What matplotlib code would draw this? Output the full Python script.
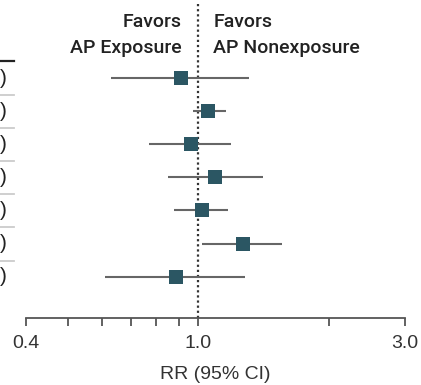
import matplotlib.pyplot as plt
import numpy as np

# RR and 95% CI per row (top to bottom)
rr = [0.91, 1.05, 0.96, 1.09, 1.02, 1.27, 0.89]
ci_low = [0.63, 0.97, 0.77, 0.85, 0.88, 1.02, 0.61]
ci_high = [1.31, 1.16, 1.19, 1.41, 1.17, 1.56, 1.28]
tick_vals = [0.4, 1.0, 3.0]
tick_labels = ['0.4', '1.0', '3.0']
minor_vals = [0.5, 0.6, 0.7, 0.8, 0.9, 2.0]
header_left = ['Favors', 'AP Exposure']
header_right = ['Favors', 'AP Nonexposure']

plt.rcParams['font.family'] = ['Liberation Sans', 'DejaVu Sans']

W, H = 421, 385
fig = plt.figure(figsize=(W / 100, H / 100), dpi=100)

# axes placed in pixel terms: x 0.4 -> 26 px, 3.0 -> 405 px; axis line at y=318
ax = fig.add_axes([26 / W, (H - 318) / H, (405 - 26) / W, (318 - 3) / H])
row_h = 33.1
top_pad = (78 - 3) / row_h
bot_pad = (318 - 78) / row_h - (len(rr) - 1)

ax.set_xscale('log')
ax.set_xlim(0.4, 3.0)
ax.set_ylim(len(rr) - 1 + bot_pad, -top_pad)

y = np.arange(len(rr))
sq_color = '#2b5663'
for i in range(len(rr)):
    ax.plot([ci_low[i], ci_high[i]], [y[i], y[i]], color='#666666', lw=1.5,
            solid_capstyle='butt', zorder=2)
ax.scatter(rr, y, marker='s', s=100, color=sq_color, zorder=3, linewidths=0)

ax.axvline(1.0, color='#333333', lw=1.6, ls=(0, (1, 1.3)), zorder=1)

for s in ['top', 'right', 'left']:
    ax.spines[s].set_visible(False)
ax.spines['bottom'].set_color('#555555')
ax.spines['bottom'].set_linewidth(1.3)
ax.set_yticks([])
ax.set_xticks(tick_vals)
ax.set_xticklabels(tick_labels)
ax.set_xticks(minor_vals, minor=True)
ax.xaxis.set_minor_formatter(plt.NullFormatter())
ax.tick_params(axis='x', which='both', length=6, width=1.3, color='#555555',
               labelsize=14, labelcolor='#333333', pad=6)
ax.set_xlabel('RR (95% CI)', fontsize=14, color='#333333', labelpad=10)

# header, two lines each side of the null line (baselines at 27 and 53 px)
hdr_font = dict(fontsize=14, color='#222222', weight='medium',
                family=['Roboto', 'DejaVu Sans'])
for k, base in enumerate([24, 50]):
    ax.annotate(header_left[k], xy=(1.0, -top_pad), xytext=(-17, -base),
                textcoords='offset pixels', ha='right', va='baseline', **hdr_font)
    ax.annotate(header_right[k], xy=(1.0, -top_pad), xytext=(15, -base),
                textcoords='offset pixels', ha='left', va='baseline', **hdr_font)

# cut-off label column on the left
for i in range(len(rr)):
    ypix = 78 + row_h * i
    fig.text(0, 1 - ypix / H, ')', ha='left', va='center', fontsize=15,
             color='#222222')
    sep = ypix + 17
    if i < len(rr) - 1:
        fig.add_artist(plt.Line2D([0, 14 / W], [1 - sep / H, 1 - sep / H],
                                  color='#cccccc', lw=1.3))
fig.add_artist(plt.Line2D([0, 14 / W], [1 - 61 / H, 1 - 61 / H],
                          color='#222222', lw=1.6))

fig.savefig('out.png', dpi=100)
